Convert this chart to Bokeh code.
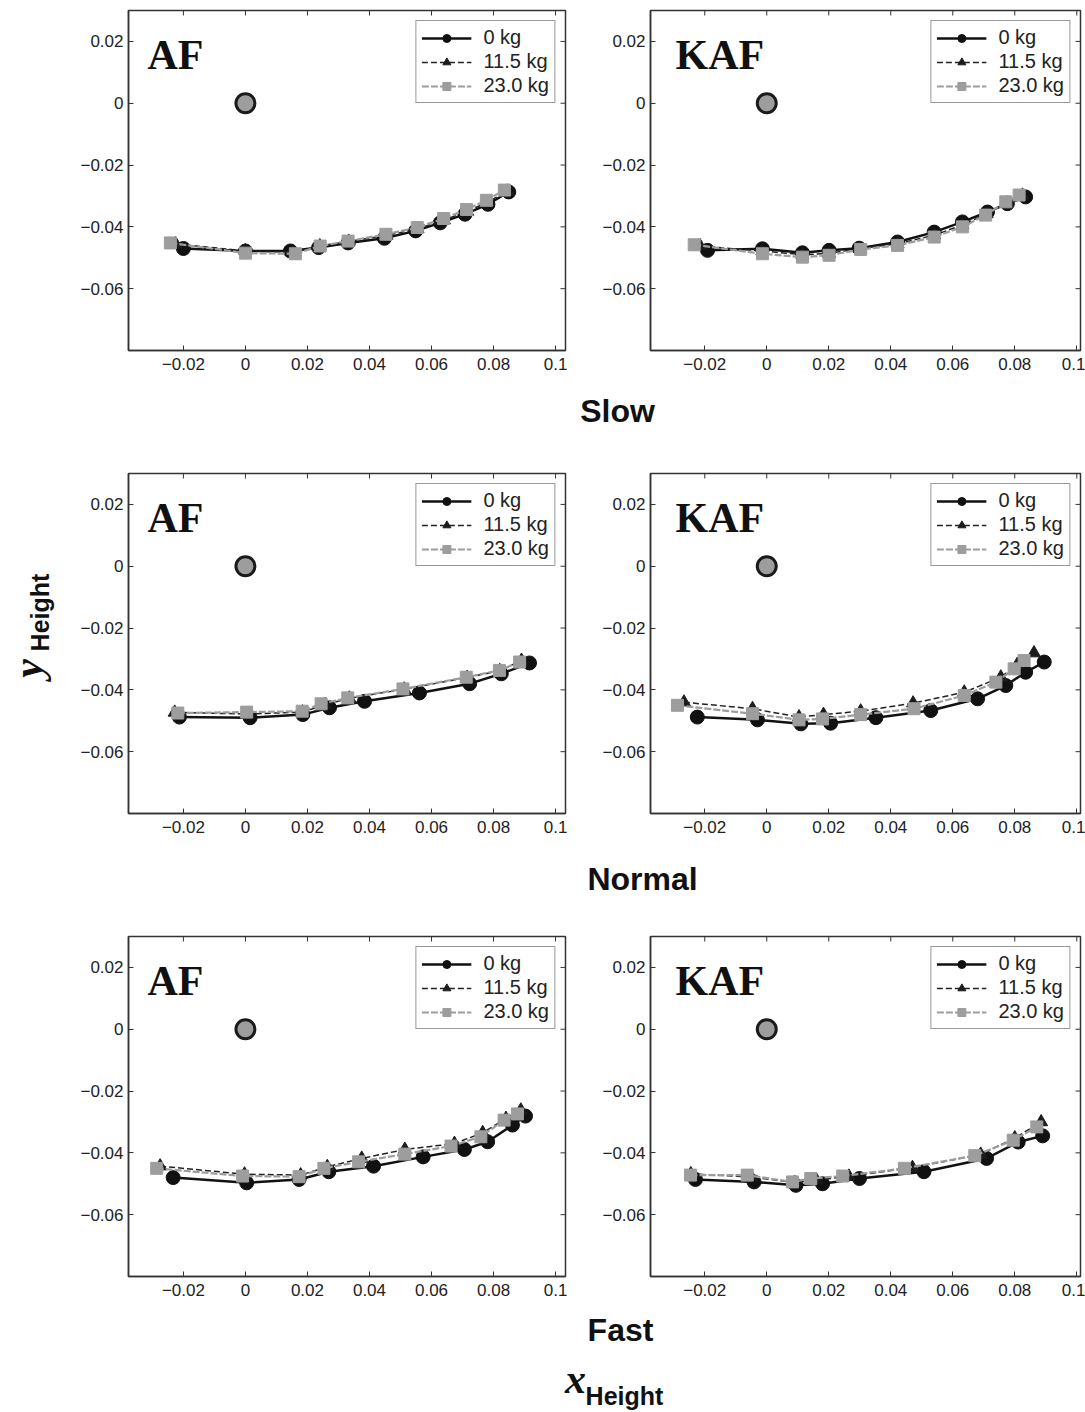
import numpy as np
from bokeh.plotting import figure
from bokeh.layouts import row, column
from bokeh.models import Range1d, Label, Legend, LegendItem, FixedTicker
from bokeh.embed import file_html
from bokeh.resources import INLINE

# ---------------- ticks / labels ----------------
X_TICKS = [-0.02, 0.0, 0.02, 0.04, 0.06, 0.08, 0.1]
X_TICK_LABELS = ["\u22120.02", "0", "0.02", "0.04", "0.06", "0.08", "0.1"]
Y_TICKS = [-0.06, -0.04, -0.02, 0.0, 0.02]
Y_TICK_LABELS = ["\u22120.06", "\u22120.04", "\u22120.02", "0", "0.02"]

SERIES_NAMES = ["0 kg", "11.5 kg", "23.0 kg"]
SPEEDS = ["Slow", "Normal", "Fast"]
DEVICES = ["AF", "KAF"]

ORIGIN_X = [0.0]
ORIGIN_Y = [0.0]

# ---------------- AF, slow ----------------
A_S_X0 = [-0.0200, 0.0000, 0.0145, 0.0236, 0.0331, 0.0448, 0.0549, 0.0628, 0.0708, 0.0782, 0.0849]
A_S_Y0 = [-0.0470, -0.0478, -0.0478, -0.0467, -0.0452, -0.0437, -0.0413, -0.0387, -0.0359, -0.0327, -0.0287]
A_S_X1 = [-0.0225, 0.0000, 0.0155, 0.0240, 0.0333, 0.0455, 0.0555, 0.0640, 0.0715, 0.0780, 0.0845]
A_S_Y1 = [-0.0455, -0.0478, -0.0482, -0.0462, -0.0447, -0.0428, -0.0406, -0.0378, -0.0350, -0.0320, -0.0285]
A_S_X2 = [-0.0242, 0.0000, 0.0161, 0.0241, 0.0331, 0.0453, 0.0554, 0.0639, 0.0713, 0.0777, 0.0835]
A_S_Y2 = [-0.0452, -0.0485, -0.0487, -0.0462, -0.0446, -0.0424, -0.0402, -0.0373, -0.0344, -0.0314, -0.0281]

# ---------------- KAF, slow ----------------
K_S_X0 = [-0.0191, -0.0014, 0.0115, 0.0201, 0.0298, 0.0422, 0.0540, 0.0631, 0.0712, 0.0776, 0.0835]
K_S_Y0 = [-0.0476, -0.0471, -0.0484, -0.0476, -0.0469, -0.0449, -0.0417, -0.0384, -0.0352, -0.0325, -0.0303]
K_S_X1 = [-0.0215, -0.0014, 0.0115, 0.0201, 0.0300, 0.0422, 0.0540, 0.0631, 0.0709, 0.0774, 0.0825]
K_S_Y1 = [-0.0462, -0.0478, -0.0490, -0.0486, -0.0470, -0.0455, -0.0427, -0.0394, -0.0358, -0.0323, -0.0298]
K_S_X2 = [-0.0234, -0.0014, 0.0115, 0.0201, 0.0303, 0.0422, 0.0540, 0.0631, 0.0706, 0.0771, 0.0814]
K_S_Y2 = [-0.0458, -0.0487, -0.0498, -0.0492, -0.0473, -0.0460, -0.0433, -0.0400, -0.0362, -0.0319, -0.0297]

# ---------------- AF, normal ----------------
A_N_X0 = [-0.0213, 0.0015, 0.0185, 0.0271, 0.0384, 0.0561, 0.0723, 0.0825, 0.0916]
A_N_Y0 = [-0.0488, -0.0490, -0.0480, -0.0458, -0.0437, -0.0410, -0.0380, -0.0348, -0.0313]
A_N_X1 = [-0.0228, 0.0008, 0.0184, 0.0257, 0.0335, 0.0512, 0.0715, 0.0820, 0.0890]
A_N_Y1 = [-0.0473, -0.0478, -0.0472, -0.0448, -0.0427, -0.0398, -0.0360, -0.0338, -0.0305]
A_N_X2 = [-0.0218, 0.0004, 0.0183, 0.0244, 0.0330, 0.0508, 0.0712, 0.0819, 0.0884]
A_N_Y2 = [-0.0475, -0.0472, -0.0469, -0.0445, -0.0426, -0.0397, -0.0359, -0.0337, -0.0310]

# ---------------- KAF, normal ----------------
K_N_X0 = [-0.0224, -0.0030, 0.0110, 0.0206, 0.0352, 0.0529, 0.0680, 0.0771, 0.0835, 0.0895]
K_N_Y0 = [-0.0488, -0.0497, -0.0510, -0.0508, -0.0490, -0.0467, -0.0429, -0.0386, -0.0343, -0.0310]
K_N_X1 = [-0.0267, -0.0046, 0.0104, 0.0183, 0.0303, 0.0472, 0.0637, 0.0755, 0.0808, 0.0862]
K_N_Y1 = [-0.0440, -0.0461, -0.0488, -0.0480, -0.0469, -0.0443, -0.0408, -0.0359, -0.0318, -0.0281]
K_N_X2 = [-0.0288, -0.0046, 0.0104, 0.0180, 0.0303, 0.0475, 0.0637, 0.0739, 0.0798, 0.0830]
K_N_Y2 = [-0.0450, -0.0477, -0.0497, -0.0494, -0.0480, -0.0461, -0.0418, -0.0375, -0.0332, -0.0305]

# ---------------- AF, fast ----------------
A_F_X0 = [-0.0233, 0.0004, 0.0173, 0.0269, 0.0413, 0.0573, 0.0706, 0.0781, 0.0861, 0.0903]
A_F_Y0 = [-0.0480, -0.0497, -0.0486, -0.0461, -0.0443, -0.0413, -0.0389, -0.0364, -0.0310, -0.0281]
A_F_X1 = [-0.0275, -0.0003, 0.0178, 0.0264, 0.0375, 0.0514, 0.0674, 0.0765, 0.0840, 0.0888]
A_F_Y1 = [-0.0443, -0.0469, -0.0472, -0.0445, -0.0418, -0.0389, -0.0370, -0.0335, -0.0289, -0.0262]
A_F_X2 = [-0.0286, -0.0009, 0.0173, 0.0253, 0.0365, 0.0514, 0.0663, 0.0759, 0.0834, 0.0877]
A_F_Y2 = [-0.0450, -0.0475, -0.0477, -0.0450, -0.0429, -0.0404, -0.0378, -0.0348, -0.0294, -0.0274]

# ---------------- KAF, fast ----------------
K_F_X0 = [-0.0230, -0.0041, 0.0094, 0.0180, 0.0299, 0.0507, 0.0709, 0.0811, 0.0890]
K_F_Y0 = [-0.0486, -0.0494, -0.0505, -0.0500, -0.0483, -0.0461, -0.0418, -0.0365, -0.0345]
K_F_X1 = [-0.0245, -0.0050, 0.0090, 0.0160, 0.0265, 0.0470, 0.0690, 0.0800, 0.0885]
K_F_Y1 = [-0.0468, -0.0478, -0.0496, -0.0488, -0.0476, -0.0448, -0.0405, -0.0352, -0.0300]
K_F_X2 = [-0.0246, -0.0063, 0.0083, 0.0142, 0.0245, 0.0444, 0.0671, 0.0795, 0.0871]
K_F_Y2 = [-0.0472, -0.0472, -0.0494, -0.0483, -0.0475, -0.0450, -0.0409, -0.0359, -0.0316]

PANELS = {
    ("AF", "Slow"): [(A_S_X0, A_S_Y0), (A_S_X1, A_S_Y1), (A_S_X2, A_S_Y2)],
    ("KAF", "Slow"): [(K_S_X0, K_S_Y0), (K_S_X1, K_S_Y1), (K_S_X2, K_S_Y2)],
    ("AF", "Normal"): [(A_N_X0, A_N_Y0), (A_N_X1, A_N_Y1), (A_N_X2, A_N_Y2)],
    ("KAF", "Normal"): [(K_N_X0, K_N_Y0), (K_N_X1, K_N_Y1), (K_N_X2, K_N_Y2)],
    ("AF", "Fast"): [(A_F_X0, A_F_Y0), (A_F_X1, A_F_Y1), (A_F_X2, A_F_Y2)],
    ("KAF", "Fast"): [(K_F_X0, K_F_Y0), (K_F_X1, K_F_Y1), (K_F_X2, K_F_Y2)],
}

# ---------------- styles ----------------
SANS = "Liberation Sans"
SERIF = "Liberation Serif"
GRAY = "#9d9d9d"
STYLES = [
    dict(line_color="#111111", line_width=2.5, line_dash="solid", marker="circle", size=14,
         fill="#111111", mline="#111111"),
    dict(line_color="#222222", line_width=1.5, line_dash="6 3", marker="triangle", size=13,
         fill="#1c1c1c", mline="#1c1c1c"),
    dict(line_color=GRAY, line_width=2.2, line_dash="7 2", marker="square", size=12,
         fill=GRAY, mline=GRAY),
]

Y_RANGE = (-0.08, 0.03)
FRAME_H = 340
TICK_PX = 5


def style_axis(ax, ticks, labels):
    ax.ticker = FixedTicker(ticks=ticks)
    ax.major_label_overrides = {t: l for t, l in zip(ticks, labels)}
    ax.major_tick_in = TICK_PX
    ax.major_tick_out = 0
    ax.minor_tick_line_color = None
    ax.major_tick_line_color = "#333333"
    ax.axis_line_color = "#333333"
    ax.axis_line_width = 1.5
    ax.major_label_text_font = SANS
    ax.major_label_text_font_size = "17px"
    ax.major_label_text_color = "#222222"


def make_panel(device, speed, x_range, frame_w, b_left, b_right, title_off):
    p = figure(frame_width=frame_w, frame_height=FRAME_H,
               x_range=Range1d(*x_range), y_range=Range1d(*Y_RANGE),
               output_backend="svg", toolbar_location=None,
               min_border_left=b_left, min_border_right=b_right,
               min_border_top=10, min_border_bottom=30,
               background_fill_color="white", border_fill_color="white")
    p.grid.visible = False
    p.outline_line_color = "#333333"
    p.outline_line_width = 1.5

    style_axis(p.xaxis[0], X_TICKS, X_TICK_LABELS)
    p.xaxis[0].major_label_standoff = 7
    style_axis(p.yaxis[0], Y_TICKS, Y_TICK_LABELS)
    p.yaxis[0].major_label_standoff = 5

    span_x = x_range[1] - x_range[0]
    span_y = Y_RANGE[1] - Y_RANGE[0]
    # inward ticks on the top and right edges of the box (MATLAB style)
    tx = [t for t in X_TICKS if x_range[0] < t < x_range[1]]
    ty = [t for t in Y_TICKS if Y_RANGE[0] < t < Y_RANGE[1]]
    dy = TICK_PX * span_y / FRAME_H
    dx = TICK_PX * span_x / frame_w
    p.segment(x0=tx, y0=[Y_RANGE[1]] * len(tx), x1=tx, y1=[Y_RANGE[1] - dy] * len(tx),
              line_color="#333333", line_width=1)
    p.segment(x0=[x_range[1]] * len(ty), y0=ty, x1=[x_range[1] - dx] * len(ty), y1=ty,
              line_color="#333333", line_width=1)

    items = []
    for (xs, ys), st, name in zip(PANELS[(device, speed)], STYLES, SERIES_NAMES):
        lr = p.line(xs, ys, line_color=st["line_color"], line_width=st["line_width"],
                    line_dash=st["line_dash"])
        sr = p.scatter(xs, ys, marker=st["marker"], size=st["size"],
                       fill_color=st["fill"], line_color=st["mline"], line_width=1)
        items.append(LegendItem(label=name, renderers=[lr, sr]))

    p.scatter(ORIGIN_X, ORIGIN_Y, marker="circle", size=19, fill_color=GRAY,
              line_color="#1a1a1a", line_width=3)

    legend = Legend(items=items, location="top_right")
    legend.label_text_font = SANS
    legend.label_text_font_size = "20px"
    legend.label_text_color = "#222222"
    legend.border_line_color = "#333333"
    legend.border_line_width = 1.5
    legend.background_fill_color = "white"
    legend.background_fill_alpha = 1.0
    legend.glyph_width = 50
    legend.glyph_height = 20
    legend.label_height = 20
    legend.label_standoff = 12
    legend.spacing = 1
    legend.padding = 5
    legend.margin = 10
    p.add_layout(legend)

    # panel name (AF / KAF)
    lx = x_range[0] + title_off * span_x / frame_w
    ly = Y_RANGE[1] - 44 * span_y / FRAME_H
    p.add_layout(Label(x=lx, y=ly, text=device, text_font=SERIF, text_font_style="bold",
                       text_font_size="42px", text_color="#111111",
                       text_baseline="alphabetic", text_align="left"))
    return p


def make_title(text, width, height, cx, cy_from_top, size="32px"):
    t = figure(width=width, height=height, x_range=Range1d(0, width), y_range=Range1d(0, height),
               output_backend="svg", toolbar_location=None, min_border=0,
               x_axis_type=None, y_axis_type=None, outline_line_color=None,
               background_fill_color="white", border_fill_color="white")
    t.grid.visible = False
    t.add_layout(Label(x=cx, y=height - cy_from_top, text=text, text_font=SANS,
                       text_font_style="bold", text_font_size=size, text_color="#111111",
                       text_align="center", text_baseline="middle"))
    return t


LEFT_XR = (-0.0377, 0.1032)
RIGHT_XR = (-0.0375, 0.1012)

rows = []
title_specs = {"Slow": (83, 559, 30), "Normal": (83, 584, 35), "Fast": (107, 562, 23)}
for speed in SPEEDS:
    pl = make_panel("AF", speed, LEFT_XR, 437, 70, 15, 19)
    pr = make_panel("KAF", speed, RIGHT_XR, 430, 70, 5, 25)
    rows.append(row(pl, pr, spacing=0))
    h, cx, cy = title_specs[speed]
    tf = make_title(speed, 1027, h, cx, cy)
    if speed == "Fast":
        tf.add_layout(Label(x=517, y=h - 72, text="x", text_font=SERIF,
                            text_font_style="bold italic", text_font_size="42px",
                            text_color="#111111", text_align="center", text_baseline="middle"))
        tf.add_layout(Label(x=566, y=h - 89, text="Height", text_font=SANS,
                            text_font_style="bold", text_font_size="25px",
                            text_color="#111111", text_align="center", text_baseline="middle"))
    rows.append(tf)

right_col = column(*rows, spacing=0)

ylab = figure(width=58, height=1412, x_range=Range1d(0, 58), y_range=Range1d(0, 1412),
              output_backend="svg", toolbar_location=None, min_border=0,
              x_axis_type=None, y_axis_type=None, outline_line_color=None,
              background_fill_color="white", border_fill_color="white")
ylab.grid.visible = False
ylab.add_layout(Label(x=27, y=1412 - 668, text="y", text_font=SERIF,
                      text_font_style="bold italic", text_font_size="42px", text_color="#111111",
                      angle=np.pi / 2, text_align="center", text_baseline="middle"))
ylab.add_layout(Label(x=39, y=1412 - 612, text="Height", text_font=SANS,
                      text_font_style="bold", text_font_size="25px", text_color="#111111",
                      angle=np.pi / 2, text_align="center", text_baseline="middle"))

layout = row(ylab, right_col, spacing=0)

open("out.html", "w").write(file_html(layout, INLINE))
